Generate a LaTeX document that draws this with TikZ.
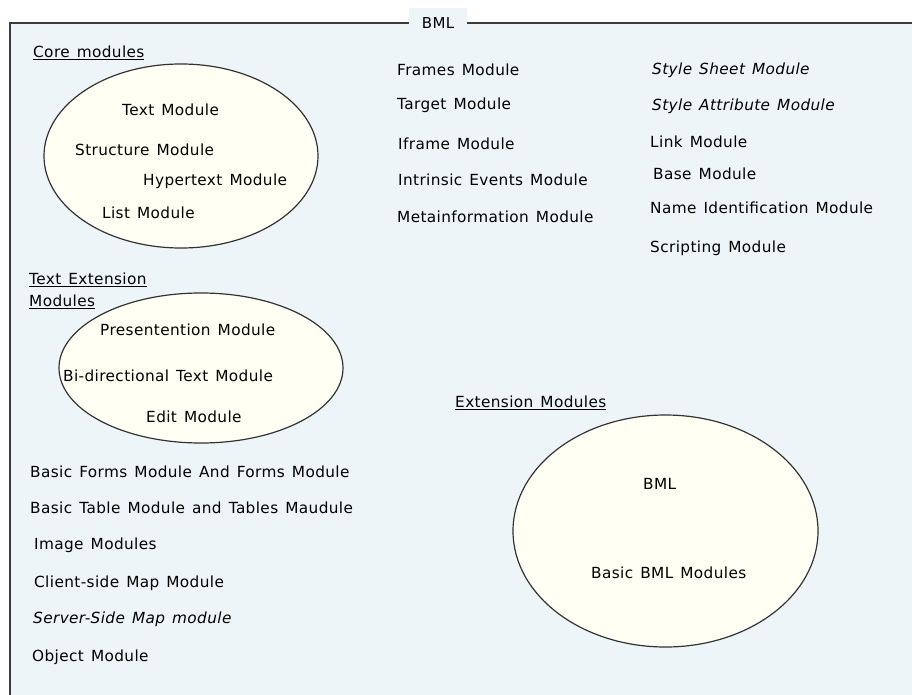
\documentclass[tikz,border=0pt]{standalone}
\usepackage{fontspec}
\setmainfont{DejaVu Sans}[WordSpace=1.35,LetterSpace=2.5]
\usetikzlibrary{shapes.geometric}
\definecolor{panelbg}{RGB}{237,245,248}
\definecolor{setfill}{RGB}{255,255,243}
\definecolor{framecol}{RGB}{60,60,60}
\begin{document}
\begin{tikzpicture}[x=1pt,y=-1pt,
  lbl/.style={anchor=west,inner sep=0pt,font=\fontsize{15.3}{18}\selectfont},
  ilbl/.style={lbl,font=\fontsize{15.3}{18}\selectfont\itshape},
  setshape/.style={draw=black!80,line width=1.2pt,fill=setfill}]
\useasboundingbox (0,0) rectangle (912,695);
\fill[white] (0,0) rectangle (912,695);
% package panel, open at the right and bottom
\fill[panelbg] (10,23) rectangle (912,695);
\draw[framecol,line width=2pt] (10,695) -- (10,23) -- (912,23);
\node[fill=panelbg,minimum width=58pt,minimum height=30pt,inner sep=0pt,
  font=\fontsize{15}{18}\selectfont] (pkg) at (438,23) {BML};

% core modules
\node[lbl] (corehead) at (33,53) {\underline{Core modules}};
\node[setshape,ellipse,minimum width=274pt,minimum height=184pt] (core) at (181,156) {};
\node[lbl] (text) at (122,110) {Text Module};
\node[lbl] (struct) at (75,150) {Structure Module};
\node[lbl] (hyper) at (143,181) {Hypertext Module};
\node[lbl] (list) at (102,213) {List Module};

% middle column
\node[lbl] (frames) at (397,70) {Frames Module};
\node[lbl] (target) at (397,105) {Target Module};
\node[lbl] (iframe) at (398,144) {Iframe Module};
\node[lbl] (intr) at (398,180) {Intrinsic Events Module};
\node[lbl] (meta) at (397,217) {Metainformation Module};

% right column
\node[ilbl] (ssheet) at (652,70) {Style Sheet Module};
\node[ilbl] (sattr) at (652,106) {Style Attribute Module};
\node[lbl] (link) at (650,142) {Link Module};
\node[lbl] (base) at (653,174) {Base Module};
\node[lbl] (nameid) at (650,208) {Name Identification Module};
\node[lbl] (script) at (650,248) {Scripting Module};

% text extension modules
\node[lbl] (texthead1) at (29,280) {\underline{Text Extension}};
\node[lbl] (texthead2) at (29,302) {\underline{Modules}};
\node[setshape,ellipse,minimum width=284pt,minimum height=150pt] (textext) at (201,368) {};
\node[lbl] (pres) at (100,330) {Presentention Module};
\node[lbl] (bidi) at (63,376) {Bi-directional Text Module};
\node[lbl] (edit) at (146,417) {Edit Module};

% remaining modules
\node[lbl] (forms) at (30,472) {Basic Forms Module And Forms Module};
\node[lbl] (tables) at (30,508) {Basic Table Module and Tables Maudule};
\node[lbl] (image) at (34,545) {Image Modules};
\node[lbl] (cmap) at (34,583) {Client-side Map Module};
\node[ilbl] (smap) at (33,619) {Server-Side Map module};
\node[lbl] (object) at (32,657) {Object Module};

% extension modules
\node[lbl] (exthead) at (455,403) {\underline{Extension Modules}};
\node[setshape,ellipse,minimum width=305pt,minimum height=232pt] (ext) at (665.5,531) {};
\node[lbl] (bml) at (643,484) {BML};
\node[lbl] (basicbml) at (591,573) {Basic BML Modules};
\end{tikzpicture}
\end{document}
